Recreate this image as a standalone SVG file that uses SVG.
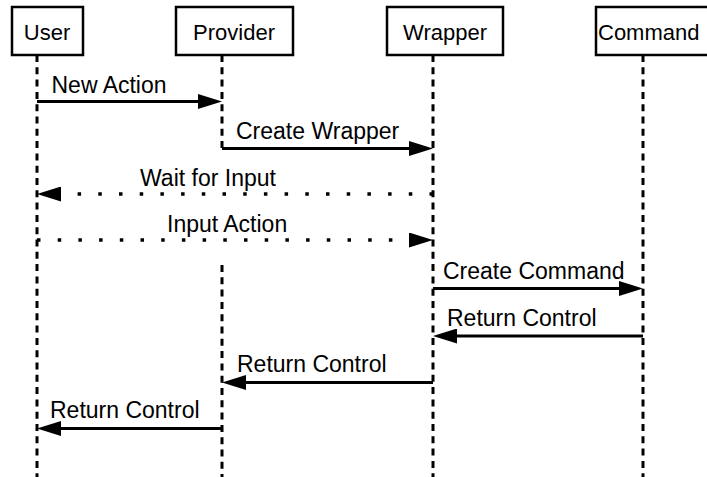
<svg xmlns="http://www.w3.org/2000/svg" width="707" height="477" viewBox="0 0 707 477">
  <style>
    .box { fill: #ffffff; stroke: #000000; stroke-width: 2.5; }
    .name { font-family: "Liberation Sans", Arial, sans-serif; font-size: 22px; fill: #000000; }
    .life { stroke: #000000; stroke-width: 3; stroke-dasharray: 7 5.3; fill: none; }
    .msg { stroke: #000000; stroke-width: 3; fill: none; }
    .async { stroke: #000000; stroke-width: 3.5; stroke-dasharray: 3.5 17.2; fill: none; }
    .label { font-family: "Liberation Sans", Arial, sans-serif; font-size: 23px; fill: #000000; }
  </style>
  <defs>
    <marker id="head" markerUnits="userSpaceOnUse" viewBox="0 0 24 15" refX="12" refY="7.5" markerWidth="24" markerHeight="15" orient="auto">
      <path d="M0,0 L24,7.5 L0,15 Z" fill="#000000" stroke="none"/>
    </marker>
  </defs>
  <rect width="707" height="477" fill="#ffffff"/>

  <!-- lifelines -->
  <g id="lifelines">
    <line class="life" x1="37" y1="55" x2="37" y2="477"/>
    <line class="life" x1="222" y1="55" x2="222" y2="150"/>
    <line class="life" x1="222" y1="265" x2="222" y2="477"/>
    <line class="life" x1="433" y1="55" x2="433" y2="477"/>
    <line class="life" x1="643" y1="55" x2="643" y2="477"/>
  </g>

  <!-- participants -->
  <g id="user">
    <rect class="box" x="12" y="7" width="71" height="48"/>
    <text class="name" x="47" y="39.5" text-anchor="middle">User</text>
  </g>
  <g id="provider">
    <rect class="box" x="176" y="7" width="117" height="48"/>
    <text class="name" x="234" y="39.5" text-anchor="middle">Provider</text>
  </g>
  <g id="wrapper">
    <rect class="box" x="387" y="7" width="116" height="48"/>
    <text class="name" x="445" y="39.5" text-anchor="middle">Wrapper</text>
  </g>
  <g id="command">
    <rect class="box" x="596" y="7" width="130" height="48"/>
    <text class="name" x="598" y="39.5">Command</text>
  </g>

  <!-- messages -->
  <g id="connectors">
    <line class="msg" x1="37" y1="101.5" x2="210" y2="101.5" marker-end="url(#head)"/>
    <line class="msg" x1="222" y1="148.5" x2="421" y2="148.5" marker-end="url(#head)"/>
    <line class="async" x1="433" y1="194" x2="49" y2="194" marker-end="url(#head)"/>
    <line class="async" x1="37" y1="240" x2="421" y2="240" marker-end="url(#head)"/>
    <line class="msg" x1="433" y1="288.5" x2="631" y2="288.5" marker-end="url(#head)"/>
    <line class="msg" x1="643" y1="336" x2="445" y2="336" marker-end="url(#head)"/>
    <line class="msg" x1="433" y1="382.5" x2="234" y2="382.5" marker-end="url(#head)"/>
    <line class="msg" x1="222" y1="428.5" x2="49" y2="428.5" marker-end="url(#head)"/>
  </g>

  <g id="labels">
    <text class="label" x="51.5" y="92.5">New Action</text>
    <text class="label" x="236" y="138.5">Create Wrapper</text>
    <text class="label" x="140" y="185.5">Wait for Input</text>
    <text class="label" x="167" y="231.5">Input Action</text>
    <text class="label" x="443" y="278.5">Create Command</text>
    <text class="label" x="447" y="326">Return Control</text>
    <text class="label" x="237" y="372">Return Control</text>
    <text class="label" x="50" y="418">Return Control</text>
  </g>
</svg>
